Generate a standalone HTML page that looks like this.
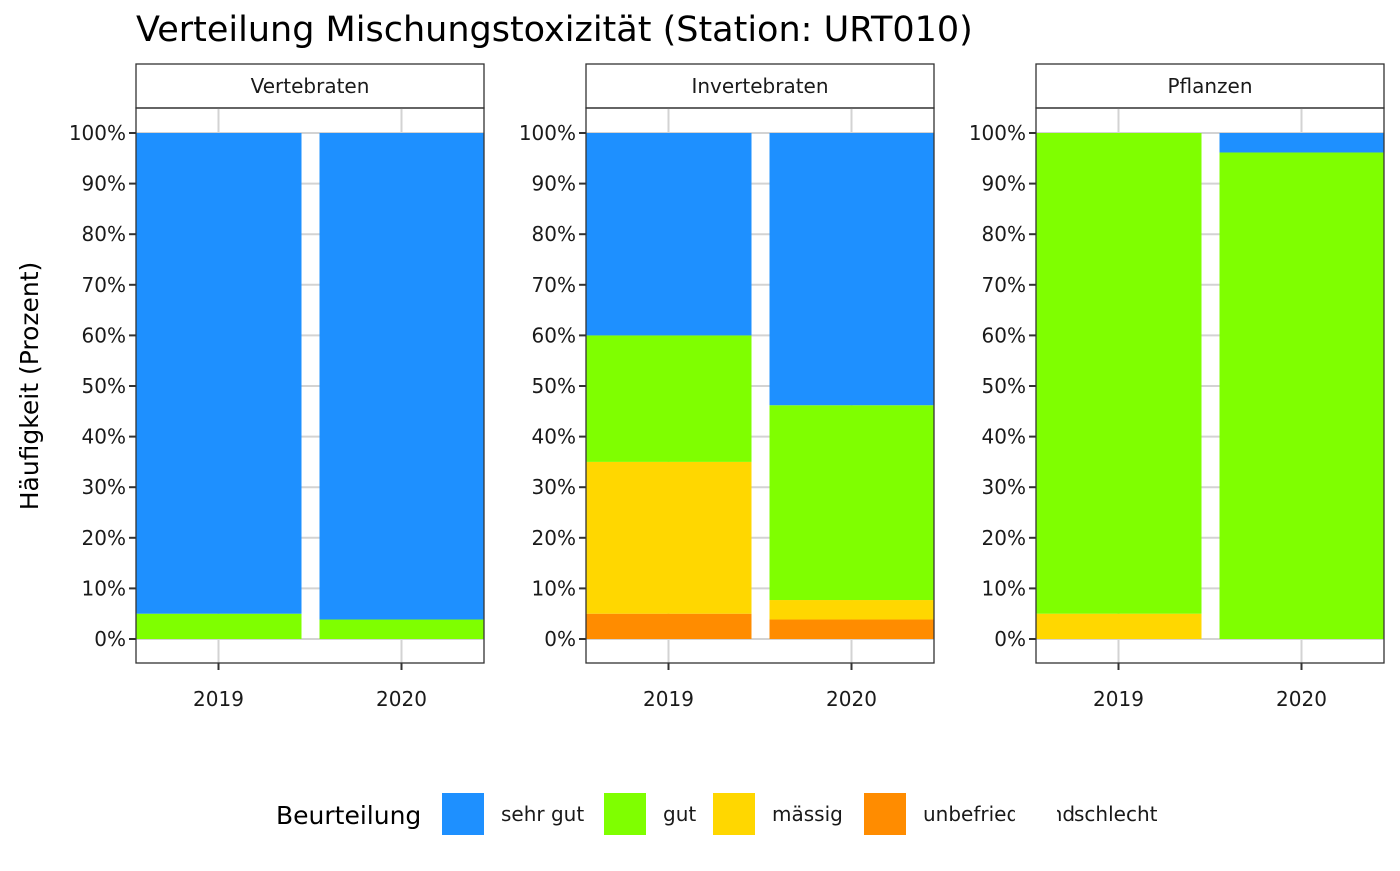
<!DOCTYPE html>
<html><head><meta charset="utf-8"><style>
body{margin:0;background:#fff;}
svg text{font-family:"DejaVu Sans","Liberation Sans",sans-serif;}
</style></head><body>
<svg id="chart" width="1400" height="866" xmlns="http://www.w3.org/2000/svg">
<rect width="1400" height="866" fill="#fff"/>
<text x="136" y="41" font-size="35" fill="#000">Verteilung Mischungstoxizität (Station: URT010)</text>
<text transform="translate(38,386) rotate(-90)" text-anchor="middle" font-size="25">Häufigkeit (Prozent)</text>
<g id="panels"></g>
<g id="legend"></g>
</svg>
<script>
const panelNames = ["Vertebraten","Invertebraten","Pflanzen"];
const years = ["2019","2020"];
const categories = ["unbefriedigend","mässig","gut","sehr gut"];
const colors = {"unbefriedigend":"#FF8C00","mässig":"#FFD700","gut":"#7FFF00","sehr gut":"#1E90FF"};
const vertebraten = [[0,0,5,95],[0,0,3.85,96.15]];
const invertebraten = [[5,30,25,40],[3.85,3.85,38.5,53.8]];
const pflanzen = [[0,5,95,0],[0,0,96.15,3.85]];
const yTicks = [0,10,20,30,40,50,60,70,80,90,100];
const legendLabels = ["sehr gut","gut","mässig","unbefriedigend","schlecht"];
const legendColors = ["#1E90FF","#7FFF00","#FFD700","#FF8C00","#FFFFFF"];

const NS="http://www.w3.org/2000/svg";
function mk(tag,attrs,parent){const e=document.createElementNS(NS,tag);for(const k in attrs)e.setAttribute(k,attrs[k]);parent.appendChild(e);return e;}
const panelData=[vertebraten,invertebraten,pflanzen];
const panelX=[136,586,1036], panelW=348, pTop=108, pBottom=663;
const yScale=v=>639-(v/100)*506;
const g=document.getElementById('panels');
panelNames.forEach((name,pi)=>{
  const x0=panelX[pi];
  const pg=mk('g',{},g);
  
  
  const strip=mk('rect',{x:x0,y:64,width:panelW,height:44,fill:'#fff',stroke:'#333','stroke-width':1.3},pg);
  
  
  const st=mk('text',{x:x0+panelW/2,y:93,'text-anchor':'middle','font-size':20,fill:'#1a1a1a'},pg);st.textContent=name;
  
  
  const xs=years.map((_,i)=>x0+82.5+i*183);
  yTicks.forEach(t=>{mk('line',{x1:x0,x2:x0+panelW,y1:yScale(t),y2:yScale(t),stroke:'#d3d3d3','stroke-width':2},pg);});
  xs.forEach(cx=>mk('line',{x1:cx,x2:cx,y1:pTop,y2:pBottom,stroke:'#d3d3d3','stroke-width':2},pg));
  panelData[pi].forEach((vals,yi)=>{
    let cum=0;
    vals.forEach((v,ci)=>{
      if(v<=0)return;
      const r=mk('rect',{x:xs[yi]-82,y:yScale(cum+v),width:165,height:yScale(cum)-yScale(cum+v),fill:colors[categories[ci]]},pg);
      
      
      cum+=v;
    });
  });
  mk('rect',{x:x0,y:pTop,width:panelW,height:pBottom-pTop,fill:'none',stroke:'#333','stroke-width':1.3},pg);
  yTicks.forEach(t=>{
    mk('line',{x1:x0-7,x2:x0,y1:yScale(t),y2:yScale(t),stroke:'#333','stroke-width':2},pg);
    const tx=mk('text',{x:x0-10,y:yScale(t)+7,'text-anchor':'end','font-size':20,fill:'#1a1a1a'},pg);tx.textContent=t+'%';
    
    
  });
  xs.forEach((cx,i)=>{
    mk('line',{x1:cx,x2:cx,y1:pBottom,y2:pBottom+7,stroke:'#333','stroke-width':2},pg);
    const tx=mk('text',{x:cx,y:706,'text-anchor':'middle','font-size':20,fill:'#1a1a1a'},pg);tx.textContent=years[i];
    
    
  });
});
const lg=document.getElementById('legend');
const lt=mk('text',{x:276,y:824,'font-size':25},lg);lt.textContent='Beurteilung';


const keyX=[442,604,713,864,1015];
legendLabels.forEach((l,i)=>{
  const r=mk('rect',{x:keyX[i],y:793,width:42,height:42,fill:legendColors[i]},lg);
  
  
  const t=mk('text',{x:keyX[i]+59,y:821,'font-size':20,fill:'#1a1a1a'},lg);t.textContent=l;
  
  
});
</script>
</body></html>
